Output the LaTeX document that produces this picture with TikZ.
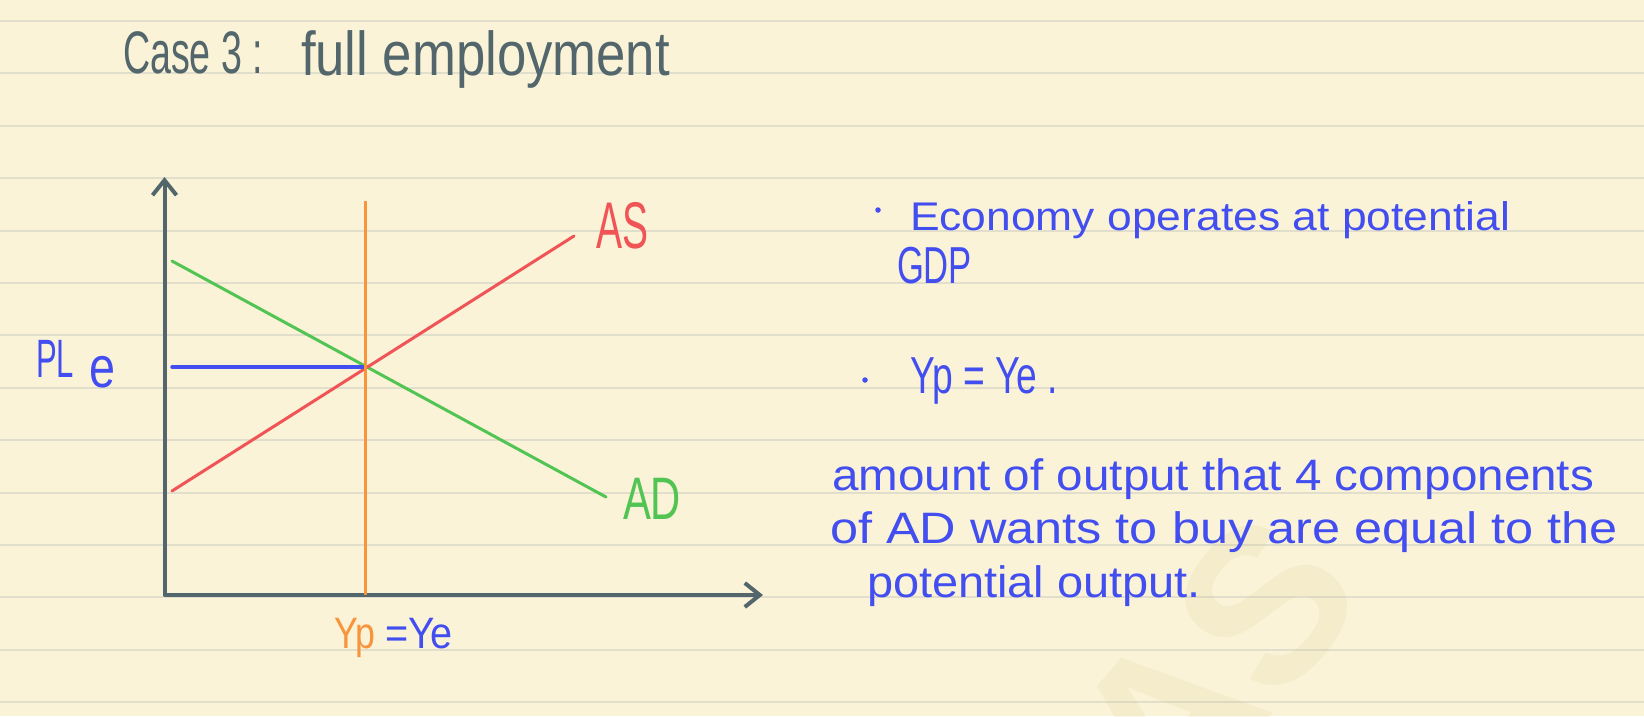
\documentclass[tikz,border=0pt]{standalone}
\usepackage{fontspec}
\setmainfont{Liberation Sans}
\usetikzlibrary{arrows.meta}
\definecolor{paper}{RGB}{250,243,215}
\definecolor{rulecol}{RGB}{226,222,204}
\definecolor{slate}{RGB}{82,102,108}
\definecolor{penred}{RGB}{240,84,86}
\definecolor{pengreen}{RGB}{82,196,84}
\definecolor{penorange}{RGB}{248,148,60}
\definecolor{penblue}{RGB}{66,78,240}
\definecolor{wmark}{RGB}{205,190,120}
\newcommand\hw[3]{\resizebox{#1pt}{\height}{\fontsize{#2pt}{#2pt}\selectfont #3}}
\begin{document}
\begin{tikzpicture}[x=1pt,y=-1pt,
  lbl/.style={anchor=base west,inner sep=0pt,outer sep=0pt},
  dot/.style={circle,fill=penblue,inner sep=0pt,minimum size=5.5pt},
  axisline/.style={slate,line width=4pt,line cap=round,line join=round,
     {Straight Barb[length=15pt,width=24pt]}-{Straight Barb[length=15pt,width=24pt]}},
  curve/.style={line width=3pt,line cap=round}]
\useasboundingbox (0,0) rectangle (1644,716);
\fill[paper] (0,0) rectangle (1644,716);
% ruled paper
\foreach \k in {0,...,13}{
  \draw[rulecol,line width=2pt] (0,{21+52.4*\k}) -- (1644,{21+52.4*\k});
}
% watermark (very faint)
\node[rotate=50,text=wmark,text opacity=0.13,font=\bfseries,inner sep=0pt] (wm) at (1215,665)
  {\fontsize{220pt}{220pt}\selectfont AS};
% title
\node[lbl,text=slate] (t1) at (123,73) {\hw{140}{60}{Case 3 :}};
\node[lbl,text=slate] (t2) at (301,75) {\hw{369}{62}{full employment}};
% chart coordinates
\coordinate (O) at (164.5,595);
\coordinate (ytip) at (164.5,177);
\coordinate (xtip) at (763,595);
\coordinate (ytop) at (365,201);
\coordinate (ybot) at (365,595);
\coordinate (as1) at (172,491);
\coordinate (as2) at (574,236);
\coordinate (ad1) at (172,261);
\coordinate (ad2) at (606,497);
\coordinate (pl1) at (172,367);
\coordinate (E) at (363,367);
% axes
\draw[axisline] (ytip) -- (O) -- (xtip);
% curves
\draw[curve,pengreen] (ad1) -- (ad2);
\draw[curve,penred] (as1) -- (as2);
\draw[penblue,line width=3.4pt,line cap=round] (pl1) -- (E);
\draw[penorange,line width=3pt] (ytop) -- (ybot);
% chart labels
\node[lbl,text=penred] (lAS) at (596,248) {\hw{52}{66}{AS}};
\node[lbl,text=pengreen] (lAD) at (623,519) {\hw{58}{60}{AD}};
\node[lbl,text=penblue] (lPL) at (36,377) {\hw{38}{54}{PL}};
\node[lbl,text=penblue] (lPe) at (89,387) {\hw{26}{58}{e}};
\node[lbl,text=penorange] (lYp) at (334,648) {\hw{41}{44}{Yp}};
\node[lbl,text=penblue] (lYe) at (385,648) {\hw{68}{44}{=Ye}};
% right-hand notes
\node[dot] (b1) at (878,210) {};
\node[lbl,text=penblue] (n1) at (910,230) {\hw{600}{40}{Economy operates at potential}};
\node[lbl,text=penblue] (n2) at (897,283) {\hw{75}{52}{GDP}};
\node[dot] (b2) at (865,380) {};
\node[lbl,text=penblue] (n3) at (910,393) {\hw{148}{52}{Yp = Ye .}};
\node[lbl,text=penblue] (n4) at (832,490) {\hw{762}{44}{amount of output that 4 components}};
\node[lbl,text=penblue] (n5) at (830,543) {\hw{788}{44}{of AD wants to buy are equal to the}};
\node[lbl,text=penblue] (n6) at (867,597) {\hw{334}{44}{potential output.}};
\end{tikzpicture}
\end{document}
